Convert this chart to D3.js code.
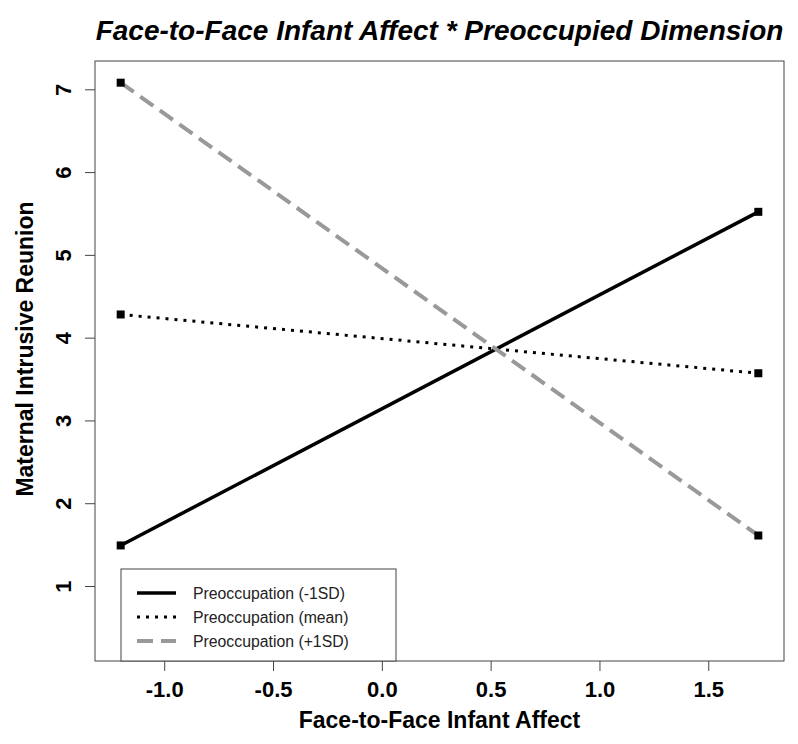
<!DOCTYPE html>
<html>
<head>
<meta charset="utf-8">
<script src="https://cdn.jsdelivr.net/npm/d3@7"></script>
<style>
  body { margin: 0; background: #fff; }
  text { font-family: "Liberation Sans", Arial, sans-serif; }
</style>
</head>
<body>
<div id="chart"></div>
<script>
// data
const xValues = [-1.2, 1.73];
const seriesNames = ["Preoccupation (-1SD)", "Preoccupation (mean)", "Preoccupation (+1SD)"];
const lowSD = [1.49, 5.52];
const meanSD = [4.28, 3.57];
const highSD = [7.08, 1.61];
const xTicks = [-1.0, -0.5, 0.0, 0.5, 1.0, 1.5];
const yTicks = [1, 2, 3, 4, 5, 6, 7];

const width = 798, height = 744;
const margin = { top: 61, right: 14, bottom: 83, left: 95 };
const w = width - margin.left - margin.right;
const h = height - margin.top - margin.bottom;

const svg = d3.select("#chart").append("svg")
    .attr("width", width)
    .attr("height", height);

// R style 4% padding on both axes
const xScale = d3.scaleLinear().domain([-1.318, 1.848]).range([0, w]);
const yScale = d3.scaleLinear().domain([0.094, 7.342]).range([h, 0]);

const g = svg.append("g")
    .attr("transform", "translate(" + margin.left + "," + margin.top + ")");

// series styles
const styles = [
    { values: lowSD, color: "#000", width: 3.5, dash: null },
    { values: meanSD, color: "#000", width: 3, dash: "3,6" },
    { values: highSD, color: "#999", width: 4, dash: "16,8" }
];

const line = d3.line()
    .x((d, i) => xScale(xValues[i]))
    .y(d => yScale(d));

styles.forEach(s => {
    g.append("path")
        .datum(s.values)
        .attr("d", line)
        .attr("fill", "none")
        .attr("stroke", s.color)
        .attr("stroke-width", s.width)
        .attr("stroke-dasharray", s.dash);
});

// square markers
styles.forEach(s => {
    g.selectAll(null)
        .data(s.values)
        .enter().append("rect")
        .attr("x", (d, i) => xScale(xValues[i]) - 4)
        .attr("y", d => yScale(d) - 4)
        .attr("width", 8)
        .attr("height", 8)
        .attr("fill", "#000");
});

// axes (hyphen minus like R)
const fmt = d => d3.format(".1f")(d).replace("\u2212", "-");

const xAxis = g.append("g")
    .attr("transform", "translate(0," + h + ")")
    .call(d3.axisBottom(xScale).tickValues(xTicks).tickFormat(fmt).tickSize(10).tickPadding(10));
xAxis.select(".domain").remove();
xAxis.selectAll("line").attr("stroke", "#444");
xAxis.selectAll("text")
    .attr("font-size", 22)
    .attr("font-weight", "bold")
    .attr("fill", "#000")
    .attr("font-family", "Liberation Sans, Arial, sans-serif");

const yAxis = g.append("g")
    .call(d3.axisLeft(yScale).tickValues(yTicks).tickSize(10).tickPadding(0));
yAxis.select(".domain").remove();
yAxis.selectAll("line").attr("stroke", "#444");
yAxis.selectAll("text")
    .attr("x", null)
    .attr("transform", "translate(-32,0) rotate(-90)")
    .attr("text-anchor", "middle")
    .attr("dy", "0.35em")
    .attr("font-size", 22)
    .attr("font-weight", "bold")
    .attr("fill", "#000")
    .attr("font-family", "Liberation Sans, Arial, sans-serif");

// plot box
g.append("rect")
    .attr("width", w)
    .attr("height", h)
    .attr("fill", "none")
    .attr("stroke", "#444")
    .attr("stroke-width", 1);

// legend
const legend = g.append("g")
    .attr("transform", "translate(" + (121 - margin.left) + "," + (569 - margin.top) + ")");

legend.append("rect")
    .attr("width", 275)
    .attr("height", h - (569 - margin.top))
    .attr("fill", "#fff")
    .attr("stroke", "#444");

styles.forEach((s, i) => {
    legend.append("line")
        .attr("x1", 16).attr("x2", 55)
        .attr("y1", 24 + i * 24).attr("y2", 24 + i * 24)
        .attr("stroke", s.color)
        .attr("stroke-width", s.width)
        .attr("stroke-dasharray", s.dash);
    legend.append("text")
        .attr("x", 72)
        .attr("y", 24 + i * 24)
        .attr("dy", "0.35em")
        .attr("font-size", 15.8)
        .attr("fill", "#222")
        .text(seriesNames[i]);
});

// titles
svg.append("text")
    .attr("x", margin.left + w / 2)
    .attr("y", 40)
    .attr("text-anchor", "middle")
    .attr("font-size", 28)
    .attr("font-weight", "bold")
    .attr("font-style", "italic")
    .text("Face-to-Face Infant Affect * Preoccupied Dimension");

svg.append("text")
    .attr("x", margin.left + w / 2)
    .attr("y", 728)
    .attr("text-anchor", "middle")
    .attr("font-size", 23)
    .attr("font-weight", "bold")
    .text("Face-to-Face Infant Affect");

svg.append("text")
    .attr("transform", "translate(33," + (margin.top + h / 2 - 12) + ") rotate(-90)")
    .attr("text-anchor", "middle")
    .attr("font-size", 23)
    .attr("font-weight", "bold")
    .text("Maternal Intrusive Reunion");
</script>
</body>
</html>
